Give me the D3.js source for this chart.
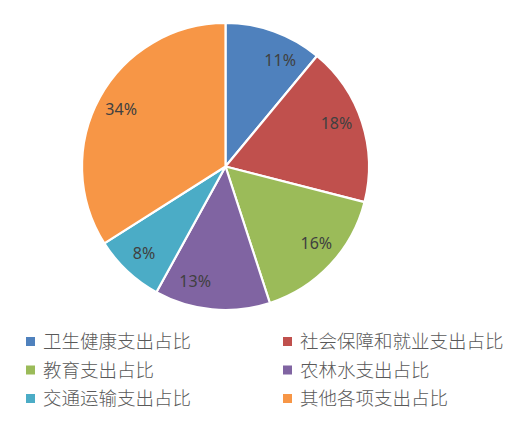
<!DOCTYPE html>
<html>
<head>
<meta charset="utf-8">
<title>支出占比</title>
<style>
  html, body { margin: 0; padding: 0; background: #fff; }
  svg { display: block; }
</style>
</head>
<body>
<svg width="511" height="425"></svg>
<script src="https://d3js.org/d3.v7.min.js"></script>
<script>
// data
var categories = ['卫生健康支出占比', '社会保障和就业支出占比', '教育支出占比', '农林水支出占比', '交通运输支出占比', '其他各项支出占比'];
var values = [11, 18, 16, 13, 8, 34];
var colors = ['#4F81BD', '#C0504D', '#9BBB59', '#8064A2', '#4BACC6', '#F79646'];
// where the label sits inside its slice (0 = start edge, 1 = end edge), like Excel's best fit
var labelPos = [0.69, 0.45, 0.45, 0.7, 0.5, 0.5];

var svg = d3.select('svg'),
    cx = 225.5,
    cy = 166.5,
    radius = 143.5;

var data = categories.map((c, i) => ({ name: c, value: values[i], color: colors[i], pos: labelPos[i] }));

var pie = d3.pie()
    .sort(null)
    .value(d => d.value);

var arc = d3.arc()
    .innerRadius(0)
    .outerRadius(radius);

var g = svg.append('g')
    .attr('transform', `translate(${cx},${cy})`);

var arcs = pie(data);

g.selectAll('.slice')
    .data(arcs)
    .enter().append('path')
        .attr('class', 'slice')
        .attr('d', arc)
        .attr('fill', d => d.data.color)
        .attr('stroke', '#fff')
        .attr('stroke-width', 2.2)
        .attr('stroke-linejoin', 'round');

function labelXY(d) {
    var a = d.startAngle + (d.endAngle - d.startAngle) * d.data.pos,
        r = radius * 0.83;
    return [Math.sin(a) * r, -Math.cos(a) * r];
}

g.selectAll('.label')
    .data(arcs)
    .enter().append('text')
        .attr('class', 'label')
        .attr('transform', d => `translate(${labelXY(d)})`)
        .attr('dy', '0.36em')
        .style('text-anchor', 'middle')
        .style('font-family', '"Noto Sans", "DejaVu Sans", sans-serif')
        .style('font-size', '16px')
        .style('fill', '#404040')
        .text(d => d.data.value + '%');

// legend: two columns, three rows
var legendX = d3.scaleOrdinal().domain([0, 1]).range([26, 283]);
var legendY = d3.scaleOrdinal().domain([0, 1, 2]).range([341.5, 370, 398.5]);

var item = svg.selectAll('.legend')
    .data(data)
    .enter().append('g')
        .attr('class', 'legend')
        .attr('transform', (d, i) => `translate(${legendX(i % 2)},${legendY(Math.floor(i / 2))})`);

item.append('rect')
    .attr('x', 0)
    .attr('y', -4.5)
    .attr('width', 9)
    .attr('height', 9)
    .attr('fill', d => d.color);

item.append('text')
    .attr('x', 17)
    .attr('dy', '0.36em')
    .style('font-family', '"Noto Sans CJK SC", sans-serif')
    .style('font-size', '18.5px')
    .style('font-weight', 300)
    .style('fill', '#595959')
    .text(d => d.name);
</script>
</body>
</html>
